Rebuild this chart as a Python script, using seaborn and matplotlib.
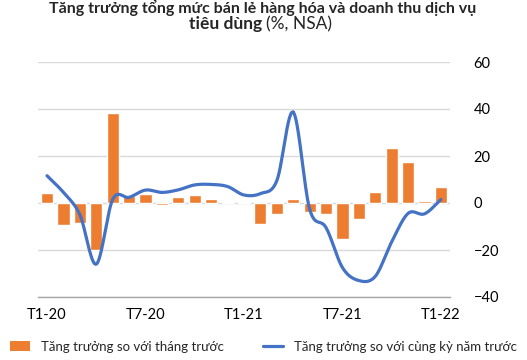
import numpy as np
import pandas as pd
import matplotlib
matplotlib.use("Agg")
import matplotlib.pyplot as plt
import seaborn as sns
from matplotlib.patches import Patch
from matplotlib.lines import Line2D

months = [f"T{m}-{y}" for y in (20, 21) for m in range(1, 13)] + ["T1-22"]
mom = [4.1, -9.3, -8.6, -20.1, 38.3, 2.8, 3.9, -0.9, 2.4, 3.4, 1.8, 0.3, 0.6,
       -9.0, -4.8, 1.6, -3.9, -4.8, -15.4, -6.9, 4.5, 23.2, 17.3, 0.9, 6.6]
yoy = [11.6, 4.5, -5.0, -26.0, 1.5, 2.4, 5.5, 4.5, 5.6, 7.7, 7.9, 7.0, 3.4,
       4.0, 9.5, 38.6, -2.6, -10.5, -27.5, -33.0, -31.2, -16.5, -4.4, -4.6, 1.5]
tick_labels = ["T1-20", "T7-20", "T1-21", "T7-21", "T1-22"]
legend_labels = ["Tăng trưởng so với tháng trước", "Tăng trưởng so với cùng kỳ năm trước"]
title_line1 = "Tăng trưởng tổng mức bán lẻ hàng hóa và doanh thu dịch vụ"
title_bold = "tiêu dùng"
title_rest = "(%, NSA)"

ORANGE = "#ED7D31"
BLUE = "#4472C4"

sns.set_theme(style="white")
plt.rcParams["font.family"] = ["Lato", "DejaVu Sans"]

fig = plt.figure(figsize=(5.27, 3.6), dpi=100)
ax = fig.add_axes([38 / 527, 1 - 297 / 360, (450 - 38) / 527, (297 - 62) / 360])

df = pd.DataFrame({"month": months, "mom": mom})
sns.barplot(data=df, x="month", y="mom", order=months, color=ORANGE,
            saturation=1, width=0.74, ax=ax, zorder=2)

# Smoothed line (Catmull-Rom through the data points, like Excel smoothing)
x = np.arange(len(yoy), dtype=float)
y = np.array(yoy, dtype=float)
px = np.concatenate([[2 * x[0] - x[1]], x, [2 * x[-1] - x[-2]]])
py = np.concatenate([[2 * y[0] - y[1]], y, [2 * y[-1] - y[-2]]])
xs, ys = [], []
t = np.linspace(0, 1, 30)
for i in range(1, len(px) - 2):
    p0, p1, p2, p3 = (np.array([px[j], py[j]]) for j in (i - 1, i, i + 1, i + 2))
    seg = 0.5 * ((2 * p1)[None, :] + (-p0 + p2)[None, :] * t[:, None]
                 + (2 * p0 - 5 * p1 + 4 * p2 - p3)[None, :] * t[:, None] ** 2
                 + (-p0 + 3 * p1 - 3 * p2 + p3)[None, :] * t[:, None] ** 3)
    xs.extend(seg[:, 0]); ys.extend(seg[:, 1])
ax.plot(xs, ys, color=BLUE, lw=2.3, zorder=3, solid_capstyle="round")

ax.set_xlim(-0.55, len(months) - 0.45)
ax.set_ylim(-40, 60)
ax.set_yticks([-40, -20, 0, 20, 40, 60])
ax.yaxis.tick_right()
ax.tick_params(axis="y", length=0, pad=17, labelsize=10.5, labelcolor="#000000")
ax.grid(axis="y", color="#D9D9D9", lw=1, zorder=0)
ax.set_axisbelow(True)
for s in ("top", "right", "left"):
    ax.spines[s].set_visible(False)
ax.spines["bottom"].set_color("#A6A6A6")
ax.spines["bottom"].set_linewidth(1)

ax.set_xticks([0, 6, 12, 18, 24])
ax.set_xticklabels(tick_labels)
ax.set_xticks([-0.5, 5.5, 11.5, 17.5, 23.5], minor=True)
ax.tick_params(axis="x", which="major", length=0, pad=8, labelsize=10.5, labelcolor="#000000")
ax.tick_params(axis="x", which="minor", length=5, width=1, color="#A6A6A6", direction="out")
ax.set_xlabel("")
ax.set_ylabel("")

fig.text(263 / 527, 1 - 13 / 360, title_line1, ha="center", va="baseline",
         fontsize=11.5, fontweight="bold")
fig.text(262 / 527, 1 - 29 / 360, title_bold, ha="right", va="baseline",
         fontsize=12.5, fontweight="bold")
fig.text(266 / 527, 1 - 29 / 360, title_rest, ha="left", va="baseline",
         fontsize=12.5)

handles = [Patch(facecolor=ORANGE, edgecolor="none"),
           Line2D([0], [0], color=BLUE, lw=2.3)]
fig.legend(handles, legend_labels, loc="upper center", ncol=2,
           bbox_to_anchor=(0.5, 1 - 338 / 360), frameon=False, fontsize=9.5,
           handlelength=1.5, columnspacing=3, borderaxespad=0, borderpad=0.2)

fig.savefig("out.png", dpi=100)
